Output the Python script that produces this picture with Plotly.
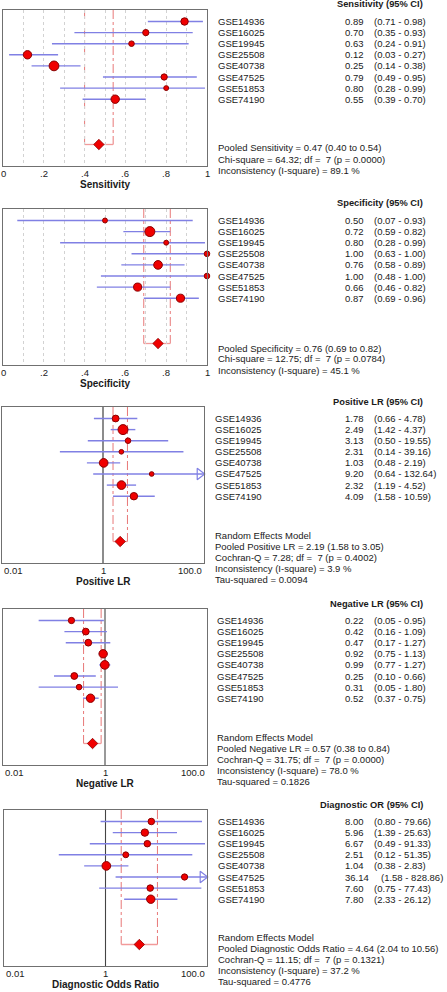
import math
import plotly.graph_objects as go

# ---------------- data ----------------
studies = ["GSE14936", "GSE16025", "GSE19945", "GSE25508",
           "GSE40738", "GSE47525", "GSE51853", "GSE74190"]

sens = [0.89, 0.70, 0.63, 0.12, 0.25, 0.79, 0.80, 0.55]
sens_lo = [0.71, 0.35, 0.24, 0.03, 0.14, 0.49, 0.28, 0.39]
sens_hi = [0.98, 0.93, 0.91, 0.27, 0.38, 0.95, 0.99, 0.70]
sens_w = [13.2, 9.3, 7.4, 16.7, 22.8, 9.3, 5.8, 16.7]

spec = [0.50, 0.72, 0.80, 1.00, 0.76, 1.00, 0.66, 0.87]
spec_lo = [0.07, 0.59, 0.28, 0.63, 0.58, 0.48, 0.46, 0.69]
spec_hi = [0.93, 0.82, 0.99, 1.00, 0.89, 1.00, 0.82, 0.96]
spec_w = [5.8, 23.7, 5.8, 7.4, 17.9, 7.4, 15.6, 15.6]

plr = [1.78, 2.49, 3.13, 2.31, 1.03, 9.20, 2.32, 4.09]
plr_lo = [0.66, 1.42, 0.50, 0.14, 0.48, 0.64, 1.19, 1.58]
plr_hi = [4.78, 4.37, 19.55, 39.16, 2.19, 132.64, 4.52, 10.59]
plr_w = [11.0, 23.7, 7.4, 5.2, 17.9, 5.2, 17.9, 13.2]

nlr = [0.22, 0.42, 0.47, 0.92, 0.99, 0.25, 0.31, 0.52]
nlr_lo = [0.05, 0.16, 0.17, 0.75, 0.77, 0.10, 0.05, 0.37]
nlr_hi = [0.95, 1.09, 1.27, 1.13, 1.27, 0.66, 1.80, 0.75]
nlr_w = [9.3, 11.0, 11.0, 16.7, 17.9, 11.0, 7.4, 16.7]

dor = [8.00, 5.96, 6.67, 2.51, 1.04, 36.14, 7.60, 7.80]
dor_lo = [0.80, 1.39, 0.49, 0.12, 0.38, 1.58, 0.75, 2.33]
dor_hi = [79.66, 25.63, 91.33, 51.35, 2.83, 828.86, 77.43, 26.12]
dor_w = [10.1, 13.2, 10.1, 8.2, 17.9, 9.3, 10.1, 16.7]

pooled_sens = (0.47, 0.40, 0.54)
pooled_spec = (0.76, 0.69, 0.82)
pooled_plr = (2.19, 1.58, 3.05)
pooled_nlr = (0.57, 0.38, 0.84)
pooled_dor = (4.64, 2.04, 10.56)

stats_sens = ["Pooled Sensitivity = 0.47 (0.40 to 0.54)",
              "Chi-square = 64.32; df = \u00a07 (p = 0.0000)",
              "Inconsistency (I-square) = 89.1 %"]
stats_spec = ["Pooled Specificity = 0.76 (0.69 to 0.82)",
              "Chi-square = 12.75; df = \u00a07 (p = 0.0784)",
              "Inconsistency (I-square) = 45.1 %"]
stats_plr = ["Random Effects Model",
             "Pooled Positive LR = 2.19 (1.58 to 3.05)",
             "Cochran-Q = 7.28; df = \u00a07 (p = 0.4002)",
             "Inconsistency (I-square) = 3.9 %",
             "Tau-squared = 0.0094"]
stats_nlr = ["Random Effects Model",
             "Pooled Negative LR = 0.57 (0.38 to 0.84)",
             "Cochran-Q = 31.75; df = \u00a07 (p = 0.0000)",
             "Inconsistency (I-square) = 78.0 %",
             "Tau-squared = 0.1826"]
stats_dor = ["Random Effects Model",
             "Pooled Diagnostic Odds Ratio = 4.64 (2.04 to 10.56)",
             "Cochran-Q = 11.15; df = \u00a07 (p = 0.1321)",
             "Inconsistency (I-square) = 37.2 %",
             "Tau-squared = 0.4776"]

headers = ["Sensitivity (95% CI)", "Specificity (95% CI)", "Positive LR (95% CI)",
           "Negative LR (95% CI)", "Diagnostic OR (95% CI)"]
axis_titles = ["Sensitivity", "Specificity", "Positive LR", "Negative LR",
               "Diagnostic Odds Ratio"]

# ---------------- layout helpers ----------------
W, H = 447, 992
FONT = "Liberation Sans, Arial, sans-serif"
TXT = "#1a1a1a"
CI_COL = "#8080e4"
RED = "#f00000"
RED_EDGE = "#8a0000"
POOL_COL = "#e87878"


def px(x):
    return x / W


def py(y):
    return 1 - y / H


BOX_H = 156
ROW0, ROWSTEP, POOL_Y = 11.5, 11.1, 134.5

panels = [
    dict(est=sens, lo=sens_lo, hi=sens_hi, w=sens_w, pooled=pooled_sens, stats=stats_sens,
         top=10, xl=3, xr=207, log=False, name_x=216, stats_y=138),
    dict(est=spec, lo=spec_lo, hi=spec_hi, w=spec_w, pooled=pooled_spec, stats=stats_spec,
         top=209, xl=3, xr=207, log=False, name_x=216, stats_y=139),
    dict(est=plr, lo=plr_lo, hi=plr_hi, w=plr_w, pooled=pooled_plr, stats=stats_plr,
         top=407, xl=2, xr=204, log=True, name_x=213, stats_y=128, line1=("#8c8c8c", 2)),
    dict(est=nlr, lo=nlr_lo, hi=nlr_hi, w=nlr_w, pooled=pooled_nlr, stats=stats_nlr,
         top=609, xl=3, xr=207, log=True, name_x=215, stats_y=128, line1=("#555555", 1.2)),
    dict(est=dor, lo=dor_lo, hi=dor_hi, w=dor_w, pooled=pooled_dor, stats=stats_dor,
         top=810, xl=4, xr=207, log=True, name_x=216, stats_y=127, line1=("#444444", 1.1)),
]

fig = go.Figure()
annotations = []
shapes = []
layout = {}

for k, p in enumerate(panels):
    n = k + 1
    xa = "x" if n == 1 else f"x{n}"
    ya = "y" if n == 1 else f"y{n}"
    xkey = "xaxis" if n == 1 else f"xaxis{n}"
    ykey = "yaxis" if n == 1 else f"yaxis{n}"
    T = p["top"]
    B = T + BOX_H
    rows = [ROW0 + ROWSTEP * i for i in range(len(studies))]
    xmin, xmax = (0.01, 100.0) if p["log"] else (0.0, 1.0)

    # CI lines
    lx, ly = [], []
    arrows_x, arrows_y = [], []
    for lo, hi, y in zip(p["lo"], p["hi"], rows):
        lx += [max(lo, xmin), min(hi, xmax), None]
        ly += [y, y, None]
        if hi > xmax:
            arrows_x.append(10 ** (math.log10(xmax) - 0.085) if p["log"] else xmax)
            arrows_y.append(y)
    fig.add_trace(go.Scatter(x=lx, y=ly, mode="lines", xaxis=xa, yaxis=ya,
                             line=dict(color=CI_COL, width=1.4), cliponaxis=False,
                             hoverinfo="skip", showlegend=False))
    if arrows_x:
        fig.add_trace(go.Scatter(x=arrows_x, y=arrows_y, mode="markers", xaxis=xa, yaxis=ya,
                                 marker=dict(symbol="triangle-right-open", size=10,
                                             color=CI_COL, line=dict(width=1.2, color=CI_COL)),
                                 cliponaxis=False, showlegend=False, hoverinfo="skip"))

    # pooled CI bracket
    pe, plo, phi = p["pooled"]
    for xv in (plo, phi):
        shapes.append(dict(type="line", xref=xa, yref=ya, x0=xv, x1=xv, y0=0, y1=POOL_Y,
                           line=dict(color=POOL_COL, width=1, dash="dashdot"), layer="below"))
    shapes.append(dict(type="line", xref=xa, yref=ya, x0=plo, x1=phi, y0=POOL_Y, y1=POOL_Y,
                       line=dict(color="#f29a9a", width=1.3), layer="below"))

    # reference line at 1 for ratio panels
    if p["log"]:
        c, wd = p["line1"]
        shapes.append(dict(type="line", xref=xa, yref=f"{ya} domain", x0=1, x1=1, y0=0, y1=1,
                           line=dict(color=c, width=wd), layer="below"))

    # study markers
    sizes = [2.05 * math.sqrt(v) for v in p["w"]]
    fig.add_trace(go.Scatter(x=p["est"], y=rows, mode="markers", xaxis=xa, yaxis=ya,
                             marker=dict(size=sizes, color=RED, opacity=1,
                                         line=dict(color=RED_EDGE, width=1)),
                             cliponaxis=False, showlegend=False, hoverinfo="skip"))
    # pooled diamond
    fig.add_trace(go.Scatter(x=[pe], y=[POOL_Y], mode="markers", xaxis=xa, yaxis=ya,
                             marker=dict(symbol="diamond", size=8, color=RED, opacity=1,
                                         line=dict(color=RED_EDGE, width=0.8)),
                             cliponaxis=False, showlegend=False, hoverinfo="skip"))

    # axes
    xd = [px(p["xl"]), px(p["xr"])]
    yd = [py(B), py(T)]
    if p["log"]:
        layout[xkey] = dict(domain=xd, anchor=ya, type="log", range=[-2, 2], showgrid=False,
                            zeroline=False, showticklabels=False, ticks="",
                            showline=True, mirror=True, linecolor="#707070", linewidth=1)
    else:
        layout[xkey] = dict(domain=xd, anchor=ya, range=[0, 1], tick0=0, dtick=0.1,
                            showgrid=True, gridcolor="#d2d2d2", griddash="dot", gridwidth=1,
                            zeroline=False, showticklabels=False, ticks="",
                            showline=True, mirror=True, linecolor="#707070", linewidth=1)
    layout[ykey] = dict(domain=yd, anchor=xa, range=[BOX_H, 0], showgrid=False, zeroline=False,
                        showticklabels=False, ticks="", showline=True, mirror=True,
                        linecolor="#707070", linewidth=1)

    # tick labels (annotation x on log axes is given in log10 units)
    if p["log"]:
        ticks = [(math.log10(0.01), "0.01", "left"), (math.log10(1), "1", "center"),
                 (math.log10(100), "100.0", "right")]
    else:
        ticks = [(v / 10, t, "center") for v, t in
                 zip([0, 2, 4, 6, 8, 10], ["0", ".2", ".4", ".6", ".8", "1"])]
    for v, t, anc in ticks:
        annotations.append(dict(x=v, xref=xa, y=py(B + 7.5), yref="paper", text=t,
                                showarrow=False, xanchor=anc, yanchor="middle",
                                font=dict(size=9.5, color=TXT, family=FONT)))
    # axis title
    annotations.append(dict(x=0.5, xref=f"{xa} domain", y=py(B + 18), yref="paper",
                            text=f"<b>{axis_titles[k]}</b>", showarrow=False,
                            xanchor="center", yanchor="middle",
                            font=dict(size=10, color=TXT, family=FONT)))
    # header
    annotations.append(dict(x=px(425), xref="paper", y=py(T - 5.5), yref="paper",
                            text=f"<b>{headers[k]}</b>", showarrow=False,
                            xanchor="right", yanchor="middle",
                            font=dict(size=9.3, color=TXT, family=FONT)))
    # study rows
    for s, e, lo, hi, y in zip(studies, p["est"], p["lo"], p["hi"], rows):
        ry = py(T + y)
        vtxt = f"{e:.2f}"
        annotations.append(dict(x=px(p["name_x"]), xref="paper", y=ry, yref="paper", text=s,
                                showarrow=False, xanchor="left", yanchor="middle",
                                font=dict(size=9.5, color=TXT, family=FONT)))
        annotations.append(dict(x=px(343), xref="paper", y=ry, yref="paper", text=vtxt,
                                showarrow=False, xanchor="left", yanchor="middle",
                                font=dict(size=9.5, color=TXT, family=FONT)))
        cx = 372 if len(vtxt) <= 4 else 379
        annotations.append(dict(x=px(cx), xref="paper", y=ry, yref="paper",
                                text=f"({lo:.2f} - {hi:.2f})",
                                showarrow=False, xanchor="left", yanchor="middle",
                                font=dict(size=9.5, color=TXT, family=FONT)))
    # summary statistics
    for j, line in enumerate(p["stats"]):
        annotations.append(dict(x=px(p["name_x"]), xref="paper", y=py(T + p["stats_y"] + 11 * j),
                                yref="paper", text=line, showarrow=False, xanchor="left",
                                yanchor="middle", font=dict(size=9.5, color=TXT, family=FONT)))

fig.update_layout(width=W, height=H, autosize=False,
                  margin=dict(l=0, r=0, t=0, b=0),
                  paper_bgcolor="white", plot_bgcolor="white",
                  font=dict(family=FONT, color=TXT),
                  annotations=annotations, shapes=shapes, showlegend=False, **layout)

fig.write_html("out.html", config={"displayModeBar": False},
               post_script="document.body.style.margin='0';document.body.style.overflow='hidden';")
